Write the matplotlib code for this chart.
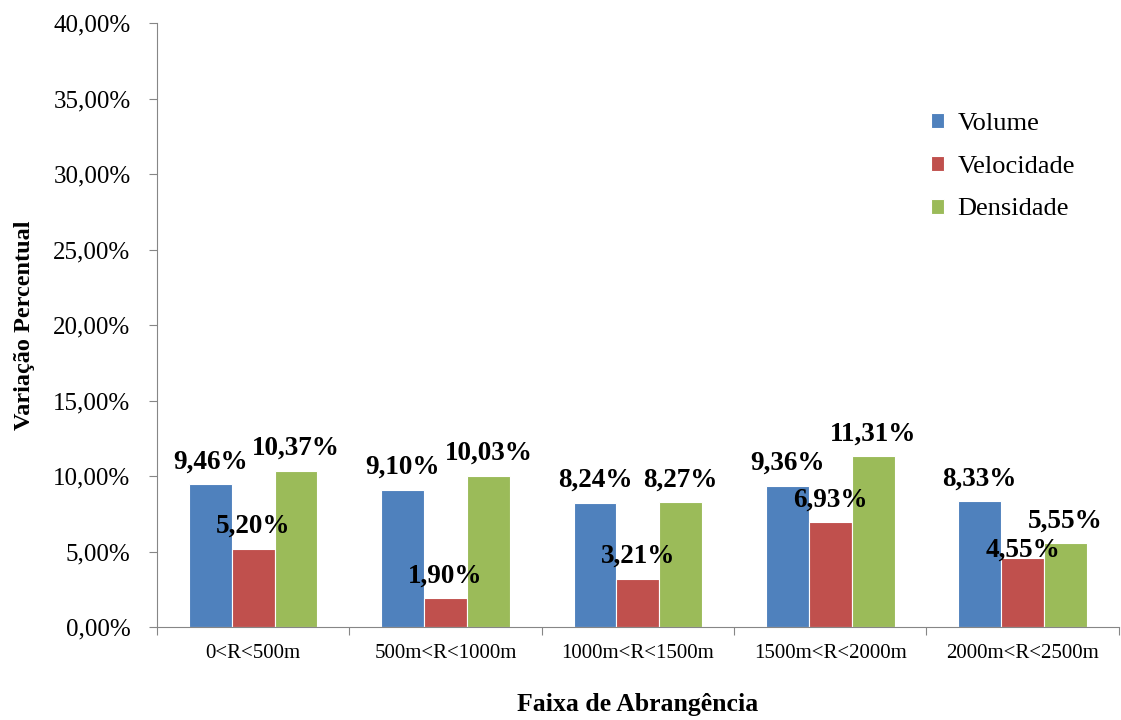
import matplotlib
matplotlib.use('agg')

import matplotlib.pyplot as plt
from matplotlib.ticker import FuncFormatter
import numpy as np

# categories and series (percent)
faixas = ['0<R<500m', '500m<R<1000m', '1000m<R<1500m', '1500m<R<2000m', '2000m<R<2500m']
volume = [9.46, 9.10, 8.24, 9.36, 8.33]
velocidade = [5.20, 1.90, 3.21, 6.93, 4.55]
densidade = [10.37, 10.03, 8.27, 11.31, 5.55]

series = [('Volume', volume, '#4F81BD'),
          ('Velocidade', velocidade, '#C0504D'),
          ('Densidade', densidade, '#9BBB59')]

plt.rcParams['font.family'] = ['Liberation Serif', 'DejaVu Serif']

def pct(v):
    return ('%.2f%%' % v).replace('.', ',')

fig = plt.figure(figsize=(11.21, 7.2), dpi=100)
ax = fig.add_axes([0.140, 0.129, 0.858, 0.839])

x = np.arange(len(faixas))
w = 0.223
for i, (name, vals, col) in enumerate(series):
    pos = x + (i - 1) * w
    ax.bar(pos, vals, width=w, color=col, edgecolor='white', linewidth=0.8, label=name, zorder=2)
    for px, v in zip(pos, vals):
        off = 16
        if name == 'Velocidade' and v == 4.55:
            off = 6   # sits on the bar, next to the Densidade label
        ax.annotate(pct(v), (px, v), xytext=(0, off), textcoords='offset points',
                    ha='center', va='center', fontsize=19.5, fontweight='bold', zorder=3)

ax.set_ylim(0, 40)
ax.set_yticks(np.arange(0, 41, 5))
ax.yaxis.set_major_formatter(FuncFormatter(lambda v, p: pct(v)))
ax.set_xlim(-0.5, len(faixas) - 0.5)

# category labels between boundary ticks
ax.set_xticks(np.arange(-0.5, len(faixas), 1.0))
ax.set_xticklabels([])
ax.set_xticks(x, minor=True)
ax.set_xticklabels(faixas, minor=True, fontsize=15)
ax.tick_params(axis='x', which='minor', length=0, pad=12)
ax.tick_params(axis='x', which='major', length=6, color='#868686')
ax.tick_params(axis='y', length=6, color='#868686', labelsize=18, pad=13)

for s in ['top', 'right']:
    ax.spines[s].set_visible(False)
for s in ['left', 'bottom']:
    ax.spines[s].set_color('#868686')

ax.set_xlabel('Faixa de Abrangência', fontsize=18.5, fontweight='bold', labelpad=22)
ax.set_ylabel('Variação Percentual', fontsize=17.5, fontweight='bold', labelpad=13)

ax.legend(loc='upper left', bbox_to_anchor=(0.78, 0.89), frameon=False, fontsize=19,
          handlelength=0.5, handleheight=0.5, handletextpad=0.5, labelspacing=0.78)

plt.savefig('out.png', dpi=100)
